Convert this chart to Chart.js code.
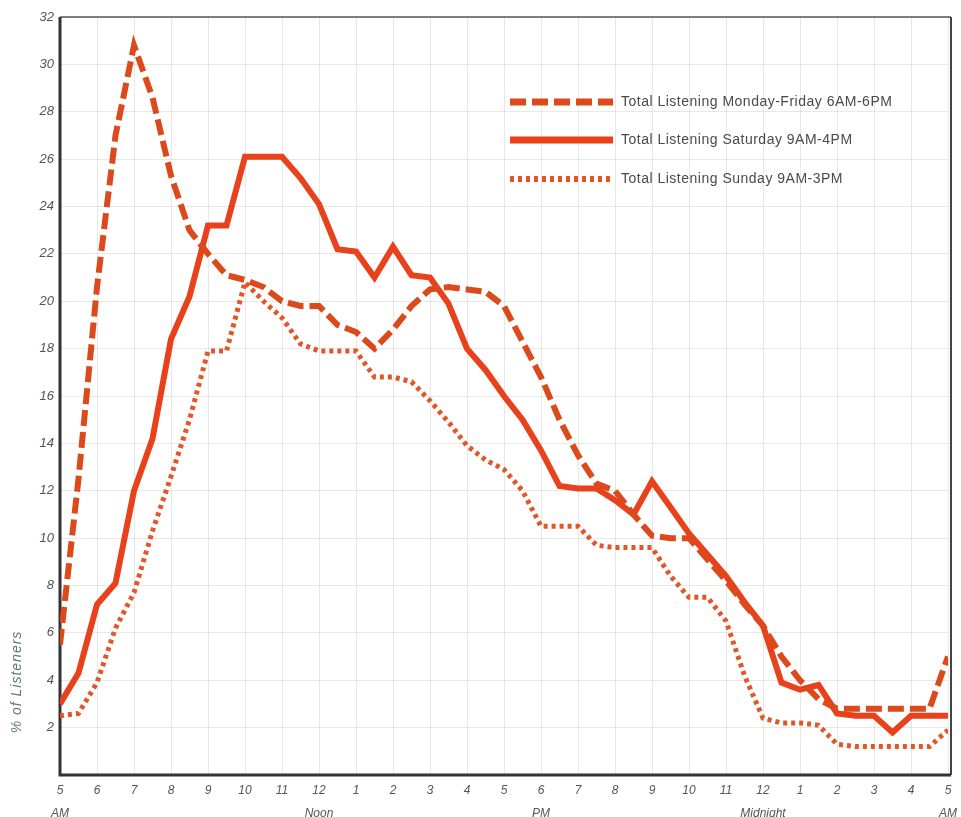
<!DOCTYPE html>
<html>
<head>
<meta charset="utf-8">
<script src="https://cdn.jsdelivr.net/npm/chart.js@4"></script>
<style>
html,body{margin:0;padding:0;background:#fff;}
#wrap{width:961px;height:817px;position:relative;}
</style>
</head>
<body>
<div id="wrap"><canvas id="c" width="961" height="817"></canvas></div>
<script>
// Hours after 5 AM, in half-hour steps (0 = 5 AM, 24 = 5 AM next day)
const hours = [0,0.5,1,1.5,2,2.5,3,3.5,4,4.5,5,5.5,6,6.5,7,7.5,8,8.5,9,9.5,10,10.5,11,11.5,12,12.5,13,13.5,14,14.5,15,15.5,16,16.5,17,17.5,18,18.5,19,19.5,20,20.5,21,21.5,22,22.5,23,23.5,24];

const weekday = [5.5,12.5,20.6,27.0,30.8,28.6,25.3,23.0,22.0,21.1,20.9,20.6,20.0,19.8,19.8,19.0,18.7,18.0,18.8,19.8,20.5,20.6,20.5,20.4,19.8,18.3,16.8,15.0,13.5,12.3,12.0,11.0,10.1,10.0,10.0,9.1,8.2,7.2,6.3,5.0,4.0,3.2,2.8,2.8,2.8,2.8,2.8,2.8,5.0];

const saturday = [3.0,4.3,7.2,8.1,12.0,14.2,18.4,20.2,23.2,23.2,26.1,26.1,26.1,25.2,24.1,22.2,22.1,21.0,22.3,21.1,21.0,19.9,18.0,17.1,16.0,15.0,13.7,12.2,12.1,12.1,11.6,11.0,12.4,11.3,10.2,9.3,8.4,7.3,6.3,3.9,3.6,3.8,2.6,2.5,2.5,1.8,2.5,2.5,2.5];

const sunday = [2.5,2.6,3.9,6.2,7.7,10.3,12.6,15.0,17.9,17.9,20.8,20.0,19.3,18.2,17.9,17.9,17.9,16.8,16.8,16.6,15.8,14.9,13.9,13.3,12.9,12.0,10.5,10.5,10.5,9.7,9.6,9.6,9.6,8.4,7.5,7.5,6.5,4.2,2.4,2.2,2.2,2.1,1.3,1.2,1.2,1.2,1.2,1.2,1.9];

const seriesNames = [
  "Total Listening Monday-Friday 6AM-6PM",
  "Total Listening Saturday 9AM-4PM",
  "Total Listening Sunday 9AM-3PM"
];

const hourLabels = ["5","6","7","8","9","10","11","12","1","2","3","4","5","6","7","8","9","10","11","12","1","2","3","4","5"];
const periodLabels = ["AM","","","","","","","Noon","","","","","","PM","","","","","","Midnight","","","","","AM"];
const yTickValues = [2,4,6,8,10,12,14,16,18,20,22,24,26,28,30,32];
const yTitle = "% of Listeners";

const toPts = arr => arr.map((v,i)=>({x:hours[i], y:v}));

const frame = {
  id:'frame',
  beforeDatasetsDraw(chart){
    const a = chart.chartArea, ctx = chart.ctx;
    ctx.save();
    ctx.strokeStyle = '#555';
    ctx.lineWidth = 1.5;
    ctx.beginPath();
    ctx.moveTo(a.left, a.top); ctx.lineTo(a.right+3, a.top);
    ctx.stroke();
    ctx.lineWidth = 2;
    ctx.strokeStyle = '#444';
    ctx.beginPath();
    ctx.moveTo(a.right+3, a.top); ctx.lineTo(a.right+3, a.bottom);
    ctx.stroke();
    ctx.lineWidth = 3;
    ctx.strokeStyle = '#333';
    ctx.beginPath();
    ctx.moveTo(a.left, a.top); ctx.lineTo(a.left, a.bottom); ctx.lineTo(a.right+3, a.bottom);
    ctx.stroke();
    ctx.restore();
  },
  afterDraw(chart){
    const ctx = chart.ctx;
    ctx.save();
    // y axis title
    ctx.translate(17, 682);
    ctx.rotate(-Math.PI/2);
    ctx.font = 'italic 14px "Liberation Sans", Arial, sans-serif';
    if ('letterSpacing' in ctx) ctx.letterSpacing = '1px';
    ctx.fillStyle = '#5f7f62';
    ctx.textAlign = 'center';
    ctx.textBaseline = 'middle';
    ctx.fillText(yTitle, 0, 0);
    ctx.restore();
    // legend
    const ds = chart.data.datasets;
    const rows = [102, 140, 179];
    ds.forEach((d,i)=>{
      ctx.save();
      ctx.strokeStyle = d.borderColor;
      ctx.lineWidth = d.borderWidth + 1;
      ctx.lineCap = 'butt';
      ctx.setLineDash(d.borderDash || []);
      ctx.beginPath();
      ctx.moveTo(510, rows[i]); ctx.lineTo(613, rows[i]);
      ctx.stroke();
      ctx.setLineDash([]);
      ctx.font = '14px "Liberation Sans", Arial, sans-serif';
      if ('letterSpacing' in ctx) ctx.letterSpacing = '0.5px';
      ctx.fillStyle = '#4a4a4a';
      ctx.textBaseline = 'middle';
      ctx.fillText(d.label, 621, rows[i]);
      ctx.restore();
    });
  }
};

new Chart(document.getElementById('c'), {
  type:'line',
  data:{
    datasets:[
      {label:seriesNames[0], data:toPts(weekday), borderColor:'#dc4a1c', borderWidth:6, borderDash:[16,6], borderCapStyle:'butt', pointRadius:0, tension:0, fill:false},
      {label:seriesNames[1], data:toPts(saturday), borderColor:'#e8411b', borderWidth:6, pointRadius:0, tension:0, fill:false},
      {label:seriesNames[2], data:toPts(sunday), borderColor:'#e2562a', borderWidth:5, borderDash:[4,4], borderCapStyle:'butt', pointRadius:0, tension:0, fill:false}
    ]
  },
  options:{
    responsive:false,
    animation:false,
    layout:{padding:{top:17,right:12,left:0,bottom:0}},
    plugins:{legend:{display:false}, tooltip:{enabled:false}},
    scales:{
      x:{
        type:'linear', min:0, max:24,
        afterFit(s){ s.height = 42; },
        afterBuildTicks(s){ s.ticks = hourLabels.map((_,i)=>({value:i})); },
        border:{display:false},
        grid:{color:'rgba(0,0,0,0.09)', drawTicks:false},
        ticks:{
          padding:4, autoSkip:false, maxRotation:0,
          color:'#555',
          font:{family:'"Liberation Sans", Arial, sans-serif', size:12, style:'italic', lineHeight:1.9},
          callback(v){ const i = Math.round(v); return periodLabels[i] ? [hourLabels[i], periodLabels[i]] : [hourLabels[i], ' ']; }
        }
      },
      y:{
        min:0, max:32,
        afterFit(s){ s.width = 60; },
        afterBuildTicks(s){ s.ticks = [{value:0}].concat(yTickValues.map(v=>({value:v}))); },
        border:{display:false},
        grid:{color:'rgba(0,0,0,0.09)', drawTicks:false},
        ticks:{
          padding:6, color:'#555',
          font:{family:'"Liberation Sans", Arial, sans-serif', size:13, style:'italic'},
          callback(v){ return v === 0 ? '' : String(v); }
        }
      }
    }
  },
  plugins:[frame]
});
</script>
</body>
</html>
